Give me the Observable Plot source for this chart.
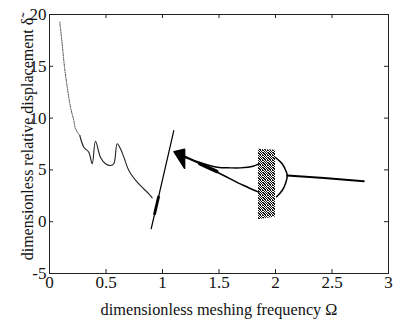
<!DOCTYPE html>
<html><head><meta charset="utf-8">
<script src="https://cdn.jsdelivr.net/npm/d3@7"></script>
<script src="https://cdn.jsdelivr.net/npm/@observablehq/plot@0.6"></script>
<style>
body{margin:0;background:#fff}
svg text{font-family:"Liberation Serif","Times New Roman",serif}
</style>
</head><body><div id="chart"></div>
<script>
const xTicks = [0, 0.5, 1, 1.5, 2, 2.5, 3];
const yTicks = [-5, 0, 5, 10, 15, 20];
const xLabel = "dimensionless meshing frequency Ω";
const yLabel = "dimensionless relative displacement δ̃";

// low-frequency branch, sparse (dotted) part
const lowAX = [0.091, 0.112, 0.133, 0.157, 0.186, 0.215, 0.230, 0.268];
const lowAY = [19.26, 17.17, 14.91, 12.98, 11.05, 9.77, 8.97, 8.32];
// low-frequency branch, solid part
const lowBX = [0.268, 0.304, 0.348, 0.378, 0.407, 0.451, 0.496, 0.540, 0.569, 0.599, 0.628, 0.658, 0.702, 0.776, 0.879, 0.909];
const lowBY = [8.32, 7.19, 6.71, 5.59, 7.77, 6.23, 5.59, 5.42, 5.59, 7.52, 7.04, 6.23, 4.94, 3.81, 2.69, 2.30];
// steep branch near resonance
const steepX = [0.900, 1.100];
const steepY = [-0.68, 8.80];
const steepThickX = [0.930, 0.965];
const steepThickY = [0.75, 2.40];
// arrow-like head
const headX = [1.106, 1.200];
const headLo = [6.71, 5.11];
const headHi = [6.71, 6.94];
// upper and lower branches
const upX = [1.20, 1.248, 1.365, 1.484, 1.60, 1.69, 1.80, 1.852];
const upY = [6.30, 6.07, 5.59, 5.26, 5.20, 5.20, 5.35, 5.59];
const loX = [1.20, 1.248, 1.366, 1.542, 1.719, 1.852];
const loY = [6.20, 6.00, 5.42, 4.46, 3.49, 2.85];
const spindleX = [1.33, 1.40, 1.48];
const spindleY = [5.60, 5.25, 4.85];
// chaotic band
const bandX = [1.850, 2.000];
const bandLo = [0.20, 0.45];
const bandHi = [7.00, 6.90];
// closing arc
const arcX = [2.000, 2.059, 2.097, 2.104, 2.088, 2.059, 2.010];
const arcY = [6.20, 5.59, 4.78, 4.46, 3.66, 3.01, 2.40];
// high-frequency tail
const tailX = [2.104, 2.43, 2.781];
const tailY = [4.46, 4.22, 3.91];

const pts = (xs, ys) => xs.map((x, i) => ({x, y: ys[i]}));
const band = (xs, lo, hi) => xs.map((x, i) => ({x, y1: lo[i], y2: hi[i]}));

const W = 393, H = 320, mL = 49, mR = 5, mT = 14, mB = 47;
const innerW = W - mL - mR, innerH = H - mT - mB;
const tk = 4;
const serif = "Liberation Serif";

const chart = Plot.plot({
  width: W, height: H,
  marginLeft: mL, marginRight: mR, marginTop: mT, marginBottom: mB,
  style: {fontFamily: serif, fontSize: "16px", background: "white", color: "black"},
  x: {domain: [0, 3], axis: null},
  y: {domain: [-5, 20], axis: null},
  marks: [
    Plot.areaY(band(bandX, bandLo, bandHi), {x: "x", y1: "y1", y2: "y2", fill: "url(#stipple)"}),
    Plot.line(pts(lowAX, lowAY), {x: "x", y: "y", stroke: "#333", strokeWidth: 0.9, strokeDasharray: "1.2 1.3", curve: "catmull-rom"}),
    Plot.line(pts(lowBX, lowBY), {x: "x", y: "y", stroke: "#222", strokeWidth: 1.1, curve: "catmull-rom"}),
    Plot.line(pts(steepX, steepY), {x: "x", y: "y", stroke: "#000", strokeWidth: 1.2}),
    Plot.line(pts(steepThickX, steepThickY), {x: "x", y: "y", stroke: "#000", strokeWidth: 2.8}),
    Plot.areaY(band(headX, headLo, headHi), {x: "x", y1: "y1", y2: "y2", fill: "#000", stroke: "#000", strokeWidth: 1.5}),
    Plot.line(pts(upX, upY), {x: "x", y: "y", stroke: "#000", strokeWidth: 1.4, curve: "catmull-rom"}),
    Plot.line(pts(loX, loY), {x: "x", y: "y", stroke: "#000", strokeWidth: 1.5, curve: "catmull-rom"}),
    Plot.line(pts(spindleX, spindleY), {x: "x", y: "y", stroke: "#000", strokeWidth: 3.5, strokeLinecap: "round"}),
    Plot.line(pts(arcX, arcY), {x: "x", y: "y", stroke: "#000", strokeWidth: 1.5, curve: "catmull-rom"}),
    Plot.line(pts(tailX, tailY), {x: "x", y: "y", stroke: "#000", strokeWidth: 2}),
    Plot.frame({stroke: "#222"}),
    Plot.tickX(xTicks, {x: d => d, insetTop: innerH - tk, stroke: "#222"}),
    Plot.tickX(xTicks, {x: d => d, insetBottom: innerH - tk, stroke: "#222"}),
    Plot.tickY(yTicks, {y: d => d, insetRight: innerW - tk, stroke: "#222"}),
    Plot.tickY(yTicks, {y: d => d, insetLeft: innerW - tk, stroke: "#222"}),
    Plot.text(xTicks, {x: d => d, frameAnchor: "bottom", dy: 2, lineAnchor: "top", textAnchor: "middle", text: d => String(d), fontSize: 17, fontFamily: serif, fill: "#111"}),
    Plot.text(yTicks, {y: d => d, frameAnchor: "left", dx: -3, lineAnchor: "middle", textAnchor: "end", text: d => String(d), fontSize: 17, fontFamily: serif, fill: "#111"}),
    Plot.text([xLabel], {text: d => d, frameAnchor: "bottom", dy: 36, lineAnchor: "middle", textAnchor: "middle", fontSize: 16.3, fontFamily: serif, fill: "#111"}),
    Plot.text([yLabel], {text: d => d, frameAnchor: "left", dx: -22, dy: -5, rotate: -90, lineAnchor: "middle", textAnchor: "middle", fontSize: 16, fontFamily: serif, fill: "#111"})
  ]
});
// stipple texture for the chaotic band
const tile = [[0,0],[2,0],[3,0],[1,1],[4,1],[0,2],[2,2],[3,2],[1,3],[3,3],[4,3],[0,4],[2,4],[4,4]];
d3.select(chart).insert("defs", ":first-child").html(
  `<pattern id="stipple" width="5" height="5" patternUnits="userSpaceOnUse">` +
  tile.map(([a, b]) => `<rect x="${a}" y="${b}" width="1" height="1" fill="#111"/>`).join("") +
  `</pattern>`);
document.getElementById("chart").appendChild(chart);
</script>
</body></html>
